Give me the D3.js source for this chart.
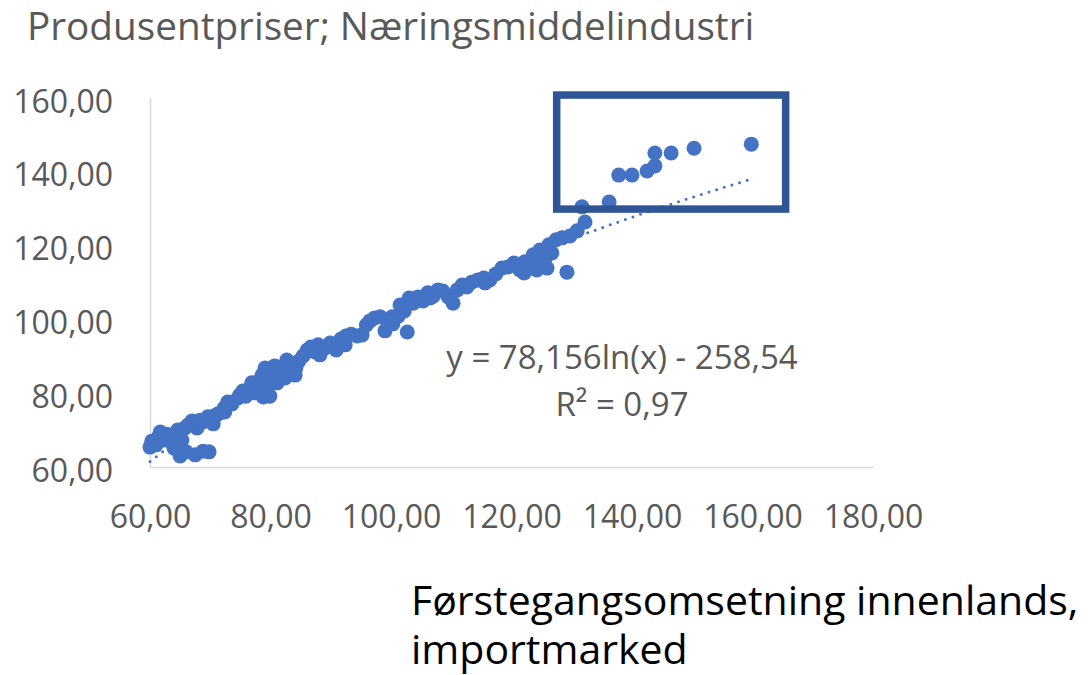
<!DOCTYPE html>
<html>
<head>
<meta charset="utf-8">
<script src="https://cdn.jsdelivr.net/npm/d3@7"></script>
<style>
  html, body { margin: 0; padding: 0; background: #ffffff; }
  svg { display: block; }
  text { font-family: "Open Sans", "Noto Sans", sans-serif; }
</style>
</head>
<body>
<svg id="chart" width="1088" height="675"></svg>
<script>
// ---- data ----
const chartTitle = "Produsentpriser; Næringsmiddelindustri";
const xAxisTitleLines = ["Førstegangsomsetning innenlands,", "importmarked"];
const xTicks = [60, 80, 100, 120, 140, 160, 180];
const yTicks = [60, 80, 100, 120, 140, 160];
const trendA = 78.156;
const trendB = -258.54;
const equationLines = ["y = 78,156ln(x) - 258,54", "R² = 0,97"];
const highlightBox = { x0: 127.5, x1: 165.5, y0: 129.9, y1: 160.8 };

const xValues = [
  60.0, 60.3, 61.0, 61.3, 62.2, 62.8, 63.3, 63.7, 64.0, 64.6,
  65.0, 65.3, 66.0, 66.3, 67.0, 67.5, 67.8, 68.8, 69.6, 69.8,
  70.5, 68.8, 71.3, 72.3, 72.9, 73.6, 74.6, 75.4, 75.9, 76.6,
  76.9, 77.6, 78.3, 78.8, 79.1, 79.6, 79.9, 80.2, 80.7, 81.1,
  81.7, 82.4, 82.9, 83.6, 84.1, 84.7, 85.4, 86.1, 86.7, 87.4,
  88.2, 89.0, 89.9, 90.9, 91.7, 92.5, 93.4, 94.4, 95.2, 96.5,
  97.3, 98.2, 99.0, 99.5, 100.3, 101.2, 101.5, 102.2, 102.7, 103.0,
  103.7, 104.5, 105.3, 106.1, 107.0, 107.8, 108.6, 109.5, 110.3, 111.0,
  111.8, 112.6, 113.4, 114.4, 115.4, 116.4, 117.4, 118.4, 119.4, 120.4,
  121.4, 122.1, 123.1, 123.6, 124.2, 124.7, 125.9, 126.2, 126.7, 127.4,
  128.4, 129.2, 129.7, 130.9, 131.7, 132.2, 136.2, 137.8, 140.0, 142.5,
  143.8, 143.8, 146.5, 150.3, 159.8,
  61.7, 65.8, 68.3, 70.6, 72.4, 74.9, 77.4, 78.6, 81.2, 82.7,
  84.2, 87.9, 92.4, 95.9, 100.2, 106.5, 115.6, 122.2, 125.6, 124.7
];
const yValues = [
  65.4, 67.0, 66.0, 67.9, 67.3, 68.9, 67.0, 68.4, 65.1, 70.0,
  63.0, 67.3, 64.1, 71.4, 72.5, 63.3, 70.6, 64.3, 73.6, 64.1,
  71.7, 72.2, 74.4, 76.0, 77.6, 77.1, 78.7, 80.6, 79.2, 81.4,
  82.8, 81.1, 83.6, 79.0, 86.8, 82.0, 79.2, 84.9, 87.4, 82.8,
  86.0, 84.1, 87.4, 86.3, 84.9, 88.7, 90.1, 91.7, 92.5, 91.2,
  90.4, 92.2, 93.6, 91.7, 94.7, 95.5, 96.0, 95.5, 95.8, 99.6,
  100.4, 100.7, 96.9, 99.3, 98.8, 100.9, 103.9, 102.3, 96.6, 105.8,
  104.4, 106.1, 105.0, 107.2, 106.3, 108.0, 107.7, 106.1, 104.4, 108.0,
  109.3, 108.8, 110.1, 110.7, 111.2, 110.7, 112.3, 113.9, 114.2, 115.3,
  113.4, 112.6, 113.9, 117.5, 113.4, 118.8, 113.9, 120.2, 118.0, 121.6,
  122.1, 112.8, 122.6, 124.0, 130.5, 126.4, 131.8, 139.1, 139.1, 140.2,
  141.6, 145.1, 145.1, 146.4, 147.5,
  69.5, 70.6, 72.7, 73.8, 74.9, 79.5, 80.1, 84.9, 85.7, 89.0,
  86.8, 93.1, 93.1, 98.5, 100.7, 105.8, 109.9, 115.6, 116.6, 114.7
];

// ---- drawing ----
const svg = d3.select("#chart");
const grey = "#595959";
const pointColor = "#4472C4";

const x = d3.scaleLinear().domain([60, 180]).range([150, 873]);
const y = d3.scaleLinear().domain([60, 160]).range([467, 98]);
const fmt = v => d3.format(".2f")(v).replace(".", ",");

// title
svg.append("text")
  .attr("x", 27).attr("y", 40)
  .attr("font-size", 38.7)
  .attr("fill", grey)
  .text(chartTitle);

// axes
const xAxis = d3.axisBottom(x).tickValues(xTicks).tickFormat(fmt).tickSize(0).tickPadding(0);
const gx = svg.append("g").attr("transform", `translate(0,${y(60)})`).call(xAxis);
gx.select(".domain").attr("stroke", "#D9D9D9").attr("stroke-width", 1.5);
gx.selectAll(".tick text")
  .attr("font-family", "Open Sans, sans-serif")
  .attr("font-size", 32).attr("fill", grey)
  .attr("dy", null).attr("y", 61);

const yAxis = d3.axisLeft(y).tickValues(yTicks).tickFormat(fmt).tickSize(0).tickPadding(0);
const gy = svg.append("g").attr("transform", `translate(${x(60)},0)`).call(yAxis);
gy.select(".domain").attr("stroke", "#D9D9D9").attr("stroke-width", 1.5);
gy.selectAll(".tick text")
  .attr("font-family", "Open Sans, sans-serif")
  .attr("font-size", 32).attr("fill", grey)
  .attr("dy", null).attr("x", -37).attr("y", 14);

// points
const pts = xValues.map((v, i) => ({ x: v, y: yValues[i] }));
svg.append("g").selectAll("circle")
  .data(pts).join("circle")
  .attr("cx", d => x(d.x)).attr("cy", d => y(d.y))
  .attr("r", 7.5)
  .attr("fill", pointColor);

// trendline (logarithmic)
const xMin = d3.min(xValues), xMax = d3.max(xValues);
const trendPts = d3.range(0, 201).map(i => {
  const xv = xMin + (xMax - xMin) * i / 200;
  return [xv, trendA * Math.log(xv) + trendB];
});
svg.append("path")
  .datum(trendPts)
  .attr("d", d3.line().x(d => x(d[0])).y(d => y(d[1])))
  .attr("fill", "none")
  .attr("stroke", pointColor)
  .attr("stroke-width", 3)
  .attr("stroke-linecap", "round")
  .attr("stroke-dasharray", "0,8");

// equation label
const eq = svg.append("text")
  .attr("text-anchor", "middle")
  .attr("font-size", 33).attr("fill", grey);
equationLines.forEach((line, i) => {
  eq.append("tspan").attr("x", 622).attr("y", 369 + i * 47).text(line);
});

// highlight box
svg.append("rect")
  .attr("x", x(highlightBox.x0)).attr("y", y(highlightBox.y1))
  .attr("width", x(highlightBox.x1) - x(highlightBox.x0))
  .attr("height", y(highlightBox.y0) - y(highlightBox.y1))
  .attr("fill", "none")
  .attr("stroke", "#2F5597")
  .attr("stroke-width", 7.5);

// x axis title (one text, two lines)
const xt = svg.append("text")
  .attr("font-size", 41).attr("fill", "#000000");
xAxisTitleLines.forEach((line, i) => {
  xt.append("tspan").attr("x", 411).attr("y", 615 + i * 49).text(line);
});
</script>
</body>
</html>
